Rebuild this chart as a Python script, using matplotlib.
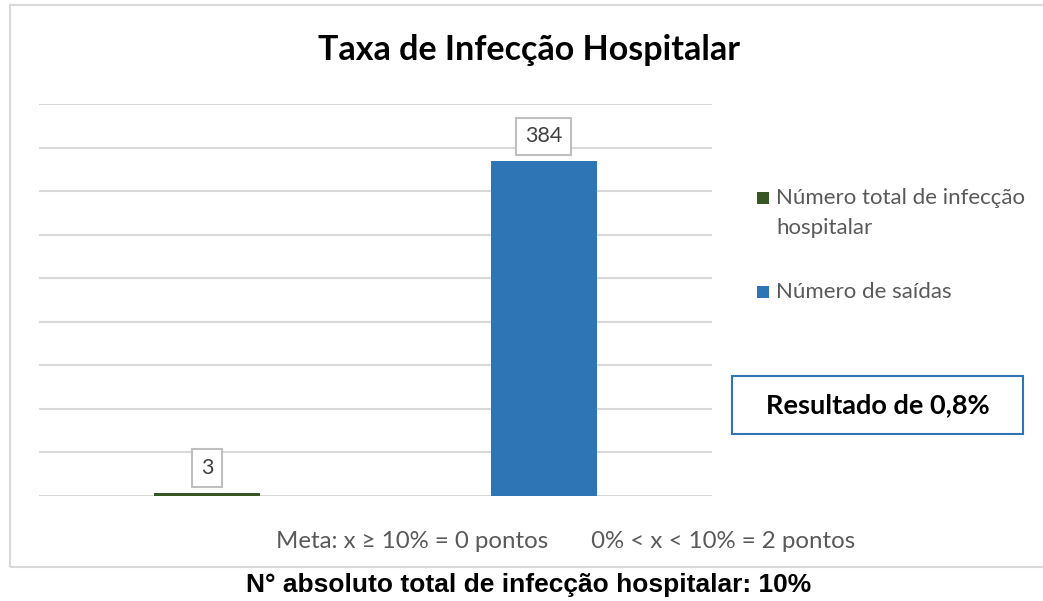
import matplotlib
matplotlib.use("Agg")
import matplotlib.pyplot as plt
from matplotlib.patches import Rectangle

categories = ["Número total de infecção\nhospitalar", "Número de saídas"]
values = [3, 384]
colors = ["#375623", "#2E75B6"]
y_max = 450
y_step = 50
title = "Taxa de Infecção Hospitalar"
result_text = "Resultado de 0,8%"
meta_text = "Meta: x ≥ 10% = 0 pontos       0% < x < 10% = 2 pontos"
footer_text = "N° absoluto total de infecção hospitalar: 10%"

W, H = 1043, 601
fig = plt.figure(figsize=(W / 100, H / 100), dpi=100)
fig.patch.set_facecolor("white")

def fx(px):
    return px / W

def fy(py):
    return 1 - py / H

# outer chart frame
fig.patches.append(Rectangle((fx(10), fy(567)), fx(1100) - fx(10), fy(5) - fy(567),
                             transform=fig.transFigure, fill=False,
                             edgecolor="#D9D9D9", linewidth=1.5))

ax = fig.add_axes([fx(39), fy(496), fx(712) - fx(39), fy(104) - fy(496)])
x = list(range(len(values)))
bars = ax.bar(x, values, width=0.315, color=colors, zorder=3)
ax.set_xlim(-0.5, len(values) - 0.5)
ax.set_ylim(0, y_max)
ax.set_yticks(range(0, y_max + 1, y_step))
ax.yaxis.grid(True, color="#D9D9D9", linewidth=1.5, zorder=0)
ax.set_axisbelow(True)
ax.tick_params(left=False, bottom=False, labelleft=False, labelbottom=False)
for s in ax.spines.values():
    s.set_visible(False)

for xi, v in zip(x, values):
    ax.annotate(str(v), (xi, v), xytext=(0, 11), textcoords="offset points",
                ha="center", va="bottom", fontsize=15.5, color="#404040",
                family="Lato",
                bbox=dict(boxstyle="square,pad=0.4", fc="white", ec="#BFBFBF", lw=1.5),
                zorder=4)

fig.text(fx(529), fy(50), title, ha="center", va="center", fontsize=24.5,
         fontweight="bold", family="Lato", color="black")

# legend drawn manually to match the reference line spacing
legend_y = [198, 292]
for lbl, col, ly in zip(categories, colors, legend_y):
    fig.patches.append(Rectangle((fx(757), fy(ly + 6)), fx(769) - fx(757), fy(ly - 6) - fy(ly + 6),
                                 transform=fig.transFigure, facecolor=col, edgecolor="none"))
    for i, line in enumerate(lbl.split("\n")):
        fig.text(fx(776), fy(ly + 30 * i), line, ha="left", va="center",
                 fontsize=16, family="Lato", color="#595959")

# result box
fig.patches.append(Rectangle((fx(732), fy(434)), fx(1023) - fx(732), fy(376) - fy(434),
                             transform=fig.transFigure, facecolor="white",
                             edgecolor="#2E75B6", linewidth=1.5))
fig.text(fx(878), fy(405), result_text, ha="center", va="center", fontsize=19.5,
         fontweight="bold", family="Lato", color="black")

fig.text(fx(566), fy(541), meta_text, ha="center", va="center", fontsize=17.3,
         family="Lato", color="#595959")

fig.text(fx(529), fy(585), footer_text, ha="center", va="center", fontsize=19,
         fontweight="bold", family="Liberation Sans", color="black")

fig.savefig("out.png", dpi=100)
